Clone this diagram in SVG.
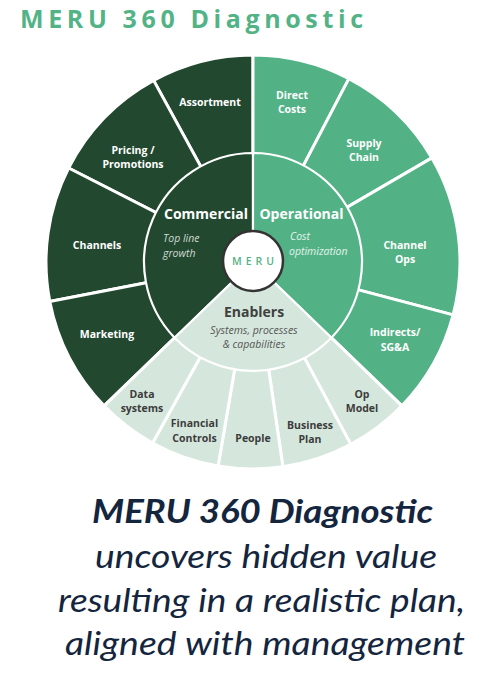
<svg xmlns="http://www.w3.org/2000/svg" width="488" height="680" viewBox="0 0 488 680">
<style>
.dk{fill:#22492f;stroke:#fff;stroke-width:3;stroke-linejoin:round}
.md{fill:#52b286;stroke:#fff;stroke-width:3;stroke-linejoin:round}
.lt{fill:#d5e7dd;stroke:#fff;stroke-width:3;stroke-linejoin:round}
.in{stroke-width:2.2}
.lw{font-family:"Open Sans","Liberation Sans",sans-serif;font-weight:700;font-size:10.5px;fill:#fff;text-anchor:middle}
.lg{font-family:"Open Sans","Liberation Sans",sans-serif;font-weight:700;font-size:10.5px;fill:#3c3c3c;text-anchor:middle}
.hd{font-family:"Open Sans","Liberation Sans",sans-serif;font-weight:700;font-size:14px}
.it{font-family:"Open Sans","Liberation Sans",sans-serif;font-style:italic;font-size:10.5px}
.bt{font-family:Lato,"Liberation Sans",sans-serif;font-style:italic;font-size:32px;fill:#14253e}
</style>
<text id="title" x="20" y="28" textLength="343" lengthAdjust="spacing" style="font-family:'Open Sans','Liberation Sans',sans-serif;font-weight:700;font-size:25px;fill:#52b386">MERU 360 Diagnostic</text>
<g id="wheel">
<g id="assortment"><path class="dk" d="M253,262 L153.6,80.4 A207,207 0 0 1 253,55 Z"/><text class="lw" x="210" y="106">Assortment</text></g>
<g id="pricing"><path class="dk" d="M253,262 L68.6,168 A207,207 0 0 1 153.6,80.4 Z"/><text class="lw" x="133" y="154">Pricing /</text><text class="lw" x="133" y="168">Promotions</text></g>
<g id="channels"><path class="dk" d="M253,262 L49.8,301.5 A207,207 0 0 1 68.6,168 Z"/><text class="lw" x="97" y="249">Channels</text></g>
<g id="marketing"><path class="dk" d="M253,262 L104.1,405.8 A207,207 0 0 1 49.8,301.5 Z"/><text class="lw" x="107" y="338">Marketing</text></g>
<g id="direct-costs"><path class="md" d="M253,262 L253,55 A207,207 0 0 1 348.9,78.6 Z"/><text class="lw" x="292" y="99">Direct</text><text class="lw" x="292" y="113">Costs</text></g>
<g id="supply-chain"><path class="md" d="M253,262 L348.9,78.6 A207,207 0 0 1 431.9,157.9 Z"/><text class="lw" x="364" y="147">Supply</text><text class="lw" x="364" y="161">Chain</text></g>
<g id="channel-ops"><path class="md" d="M253,262 L431.9,157.9 A207,207 0 0 1 453.1,314.9 Z"/><text class="lw" x="405" y="249">Channel</text><text class="lw" x="405" y="263">Ops</text></g>
<g id="indirects"><path class="md" d="M253,262 L453.1,314.9 A207,207 0 0 1 401.9,405.8 Z"/><text class="lw" x="395" y="336">Indirects/</text><text class="lw" x="395" y="351">SG&amp;A</text></g>
<g id="op-model"><path class="lt" d="M253,262 L401.9,405.8 A207,207 0 0 1 350.8,444.4 Z"/><text class="lg" x="362" y="398">Op</text><text class="lg" x="362" y="412">Model</text></g>
<g id="business-plan"><path class="lt" d="M253,262 L350.8,444.4 A207,207 0 0 1 282.9,466.8 Z"/><text class="lg" x="310" y="429">Business</text><text class="lg" x="310" y="443">Plan</text></g>
<g id="people"><path class="lt" d="M253,262 L282.9,466.8 A207,207 0 0 1 218.1,466 Z"/><text class="lg" x="253" y="442">People</text></g>
<g id="financial-controls"><path class="lt" d="M253,262 L218.1,466 A207,207 0 0 1 152.6,443 Z"/><text class="lg" x="194.5" y="427">Financial</text><text class="lg" x="194.5" y="442">Controls</text></g>
<g id="data-systems"><path class="lt" d="M253,262 L152.6,443 A207,207 0 0 1 104.1,405.8 Z"/><text class="lg" x="142" y="398">Data</text><text class="lg" x="142" y="412">systems</text></g>
</g>
<g id="commercial"><path class="dk in" d="M253,262 L174.6,337.7 A109,109 0 0 1 253,153 Z"/><text class="hd" x="206" y="219" text-anchor="middle" fill="#fff">Commercial</text><text class="it" x="163" y="242" fill="#cfd8d2">Top line</text><text class="it" x="163" y="257" fill="#cfd8d2">growth</text></g>
<g id="operational"><path class="md in" d="M253,262 L253,153 A109,109 0 0 1 331.4,337.7 Z"/><text class="hd" x="301.5" y="219" text-anchor="middle" fill="#fff">Operational</text><text class="it" x="290" y="240" fill="#e3f3ea">Cost</text><text class="it" x="289" y="255" fill="#e3f3ea">optimization</text></g>
<g id="enablers"><path class="lt in" d="M253,262 L331.4,337.7 A109,109 0 0 1 174.6,337.7 Z"/><text class="hd" x="254" y="317" text-anchor="middle" fill="#404040">Enablers</text><text class="it" x="254" y="334" text-anchor="middle" fill="#555">Systems, processes</text><text class="it" x="254" y="348" text-anchor="middle" fill="#555">&amp; capabilities</text></g>
<g id="meru"><circle cx="253" cy="261" r="30" fill="#fff" stroke="#333" stroke-width="2.5"/><text x="255" y="265" text-anchor="middle" style="font-family:'Open Sans','Liberation Sans',sans-serif;font-weight:600;font-size:10.5px;letter-spacing:4px;fill:#52b386">MERU</text></g>
<g id="connectors"/>
<g id="caption">
<text class="bt" x="92" y="523" textLength="341" lengthAdjust="spacingAndGlyphs" font-weight="700">MERU 360 Diagnostic</text>
<text class="bt" x="95" y="568" textLength="342" lengthAdjust="spacingAndGlyphs">uncovers hidden value</text>
<text class="bt" x="58" y="612" textLength="407" lengthAdjust="spacingAndGlyphs">resulting in a realistic plan,</text>
<text class="bt" x="65" y="655" textLength="400" lengthAdjust="spacingAndGlyphs">aligned with management</text>
</g>
</svg>
